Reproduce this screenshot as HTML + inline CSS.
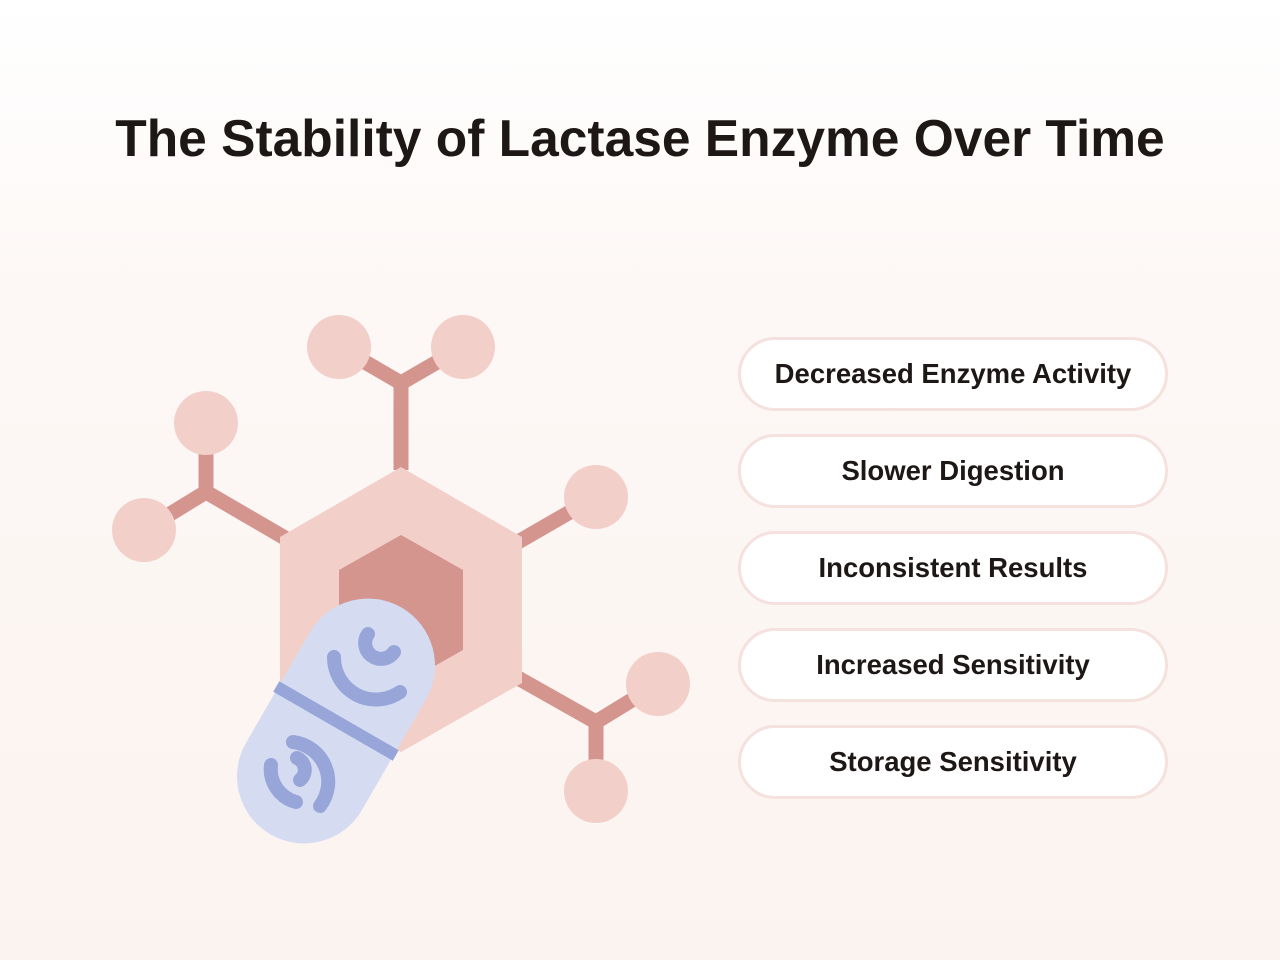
<!DOCTYPE html>
<html><head><meta charset="utf-8"><style>
html,body{margin:0;padding:0}
body{width:1280px;height:960px;background:linear-gradient(#ffffff 0%,#fdf8f6 30%,#fbf3ef 100%);font-family:"Liberation Sans",sans-serif;position:relative;overflow:hidden}
h1{position:absolute;top:108px;left:0;width:1280px;text-align:center;margin:0;font-size:51.5px;font-weight:bold;color:#1d1716}
.b{position:absolute;left:738px;width:424px;height:68px;border:3px solid #f5e1dd;border-radius:38px;background:#fff;text-align:center;line-height:68px;font-size:27.5px;font-weight:bold;color:#1d1716}
</style></head><body>
<h1>The Stability of Lactase Enzyme Over Time</h1>
<svg width="1280" height="960" style="position:absolute;left:0;top:0">
<g stroke="#d4958f" stroke-width="15" fill="none">
<path d="M339 347 L401 383 L463 347 M401 383 L401 470"/>
<path d="M206 423 L206 492 L144 530 M206 492 L285 538"/>
<path d="M596 497 L518 542"/>
<path d="M518 678 L596 722 L658 684 M596 722 L596 791"/>
</g>
<g fill="#f2cfc9">
<circle cx="339" cy="347" r="32"/><circle cx="463" cy="347" r="32"/>
<circle cx="206" cy="423" r="32"/><circle cx="144" cy="530" r="32"/>
<circle cx="596" cy="497" r="32"/><circle cx="658" cy="684" r="32"/>
<circle cx="596" cy="791" r="32"/>
<polygon points="401,467 522,537 522,683 401,752 280,683 280,537"/>
</g>
<polygon fill="#d4958f" points="401,535 463,570 463,650 401,685 339,650 339,570"/>
<g transform="translate(336,721) rotate(30)">
<rect x="-67" y="-131" width="134" height="262" rx="67" fill="#d5dcf2"/>
<line x1="-69" y1="0" x2="69" y2="0" stroke="#97a5d9" stroke-width="12"/>
</g>
<g stroke="#97a5d9" stroke-width="14" fill="none" stroke-linecap="round">
<path d="M334 657 A42 42 0 0 0 400 692"/>
<path d="M368 634 A14 14 0 0 0 394 652"/>
<path d="M293 742 A40 40 0 0 1 320 806"/>
<path d="M271 765 A34 34 0 0 0 296 802"/>
<path d="M297 758 A13 13 0 0 1 300 780"/>
</g>
</svg>
<div class="b" style="top:337px">Decreased Enzyme Activity</div>
<div class="b" style="top:434px">Slower Digestion</div>
<div class="b" style="top:531px">Inconsistent Results</div>
<div class="b" style="top:628px">Increased Sensitivity</div>
<div class="b" style="top:725px">Storage Sensitivity</div>
</body></html>
